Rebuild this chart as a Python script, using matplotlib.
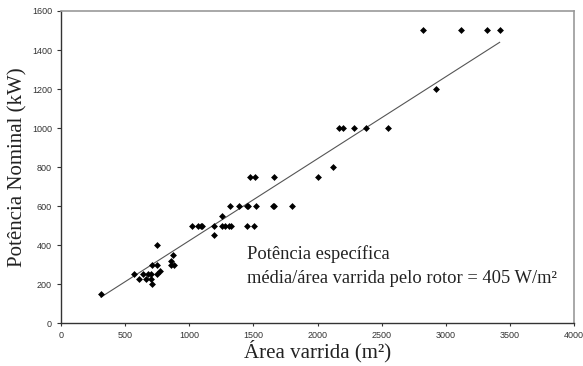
import matplotlib.pyplot as plt
import numpy as np

# swept area (m2) and rated power (kW) of each turbine
area = [312, 570, 610, 640, 660, 680, 700, 700, 710, 710, 750, 750, 750, 770,
        855, 855, 875, 880, 1020, 1070, 1090, 1100, 1195, 1195, 1255, 1255,
        1275, 1312, 1320, 1327, 1390, 1450, 1450, 1457, 1475, 1501, 1513, 1519,
        1650, 1657, 1662, 1805, 2000, 2120, 2170, 2200, 2287, 2376, 2552, 2825,
        2920, 3117, 3320, 3420]
power = [150, 250, 225, 250, 225, 250, 250, 225, 200, 300, 300, 400, 250, 270,
         320, 300, 350, 300, 500, 500, 500, 500, 500, 450, 550, 500,
         500, 500, 600, 500, 600, 600, 500, 600, 750, 500, 750, 600,
         600, 750, 600, 600, 750, 800, 1000, 1000, 1000, 1000, 1000, 1500,
         1200, 1500, 1500, 1500]

# trend line as drawn in the original (kW per m2, kW)
trend_slope = 0.42
trend_intercept = 3

xticks = np.arange(0, 4001, 500)
yticks = np.arange(0, 1601, 200)

area = np.array(area)
power = np.array(power)

serif = 'Liberation Serif'

fig = plt.figure(figsize=(5.83, 3.66), dpi=100)
ax = fig.add_axes([0.1046, 0.1167, 0.88, 0.8533])

xl = np.array([area.min(), area.max()])
ax.plot(xl, trend_slope * xl + trend_intercept, color='#555555', lw=0.8)
ax.plot(area, power, 'D', color='black', ms=3.5, mew=0)

ax.set_xlim(0, 4000)
ax.set_ylim(0, 1600)
ax.set_xticks(xticks)
ax.set_yticks(yticks)
ax.tick_params(labelsize=6.5, length=3, width=0.8, colors='#333333',
               labelcolor='#333333')
ax.tick_params(axis='x', length=2)
for lbl in ax.get_xticklabels() + ax.get_yticklabels():
    lbl.set_family('Liberation Sans')

for s in ['top', 'right']:
    ax.spines[s].set_color('#999999')
    ax.spines[s].set_linewidth(1.2)
for s in ['left', 'bottom']:
    ax.spines[s].set_color('#333333')
    ax.spines[s].set_linewidth(1.0)

ax.set_xlabel('Área varrida (m²)', family=serif, fontsize=15, color='#222222',
              labelpad=0)
ax.set_ylabel('Potência Nominal (kW)', family=serif, fontsize=15, color='#222222',
              labelpad=3)

ax.text(1450, 355, 'Potência específica', family=serif, fontsize=13.3,
        color='#222222', va='center')
ax.text(1450, 232, 'média/área varrida pelo rotor = 405 W/m²', family=serif,
        fontsize=13.3, color='#222222', va='center')

fig.savefig('out.png', dpi=100)
